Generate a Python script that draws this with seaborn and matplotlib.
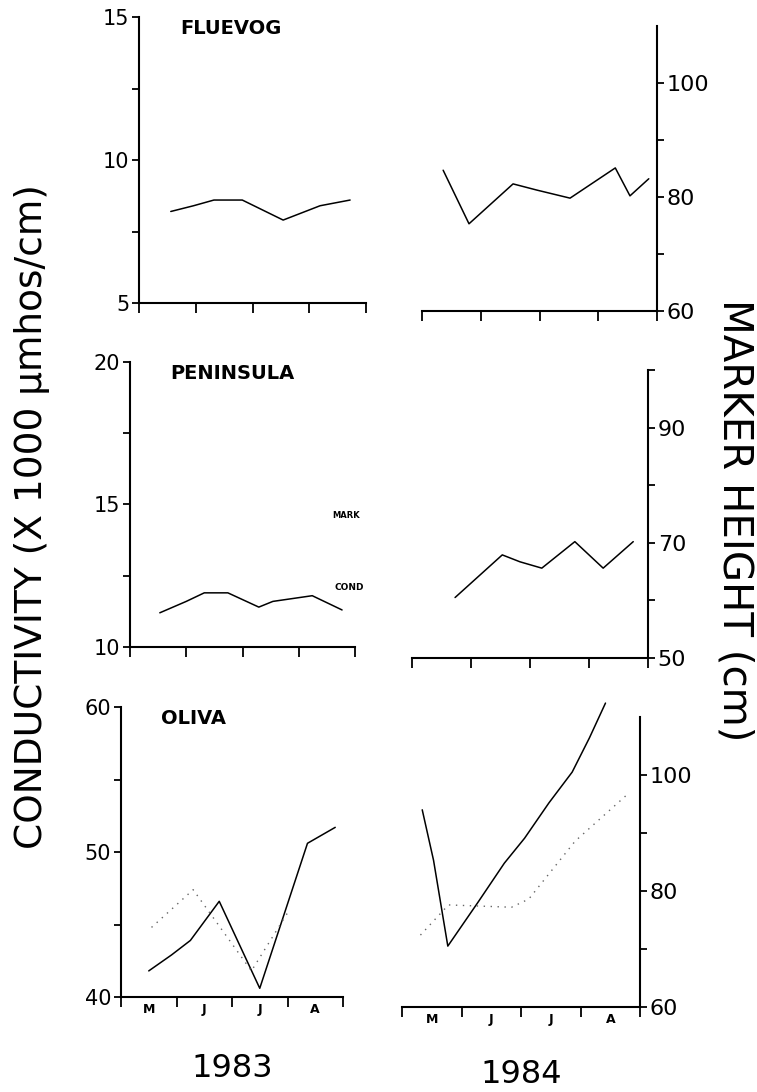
import numpy as np
import pandas as pd
import matplotlib
matplotlib.use("Agg")
import matplotlib.pyplot as plt
import seaborn as sns

# ---------------- data ----------------
months = ["M", "J", "J", "A"]
month_edges = [0, 1, 2, 3, 4]
month_centers = [0.5, 1.5, 2.5, 3.5]
years = ["1983", "1984"]
sites = ["FLUEVOG", "PENINSULA", "OLIVA"]

fluevog_83_x = [0.56, 0.96, 1.32, 1.82, 2.54, 3.19, 3.72]
fluevog_83_cond = [8.2, 8.4, 8.6, 8.6, 7.9, 8.4, 8.6]
fluevog_84_x = [0.36, 0.80, 1.55, 1.96, 2.52, 3.29, 3.54, 3.86]
fluevog_84_mark = [84.7, 75.3, 82.3, 81.2, 79.8, 85.1, 80.2, 83.2]

peninsula_83_x = [0.53, 1.00, 1.32, 1.74, 2.29, 2.54, 3.24, 3.77]
peninsula_83_cond = [11.2, 11.6, 11.9, 11.9, 11.4, 11.6, 11.8, 11.3]
peninsula_84_x = [0.73, 1.53, 1.83, 2.20, 2.76, 3.24, 3.75]
peninsula_84_mark = [60.5, 67.9, 66.7, 65.6, 70.2, 65.6, 70.2]

oliva_83_x = [0.50, 0.91, 1.25, 1.77, 2.50, 3.36, 3.86]
oliva_83_cond = [41.8, 42.9, 43.9, 46.6, 40.6, 50.6, 51.7]
oliva_83_dot_x = [0.55, 1.30, 2.35, 3.00]
oliva_83_dot = [44.8, 47.4, 41.8, 45.8]
oliva_84_x = [0.34, 0.53, 0.77, 1.28, 1.72, 2.06, 2.47, 2.86, 3.15, 3.42]
oliva_84_mark = [94.0, 85.3, 70.5, 78.1, 84.8, 89.1, 95.2, 100.5, 106.4, 112.4]
oliva_84_dot_x = [0.31, 0.78, 1.84, 2.13, 2.91, 3.76]
oliva_84_dot = [72.4, 77.6, 77.2, 78.6, 88.6, 96.4]

cond_limits = [(5, 15), (10, 20), (40, 60)]
cond_major = [[5, 10, 15], [10, 15, 20], [40, 50, 60]]
cond_minor = [[7.5, 12.5], [12.5, 17.5], [45, 55]]
mark_limits = [(60, 110), (50, 100), (60, 110)]
mark_major = [[60, 80, 100], [50, 70, 90], [60, 80, 100]]
mark_minor = [[70, 90], [60, 80, 100], [70, 90]]

# ---------------- style ----------------
sns.set_theme(style="ticks")
plt.rcParams["font.family"] = ["DejaVu Sans"]
plt.rcParams["axes.linewidth"] = 1.5
plt.rcParams["xtick.major.width"] = 1.3
plt.rcParams["ytick.major.width"] = 1.3
plt.rcParams["ytick.minor.width"] = 1.3
for key in ["text.color", "axes.labelcolor", "xtick.color", "ytick.color",
            "axes.edgecolor", "xtick.labelcolor", "ytick.labelcolor"]:
    plt.rcParams[key] = "black"

W, H = 757, 1092
fig = plt.figure(figsize=(W / 100, H / 100), dpi=100)
fig.patch.set_facecolor("white")


def box(x0, x1, y0, y1):
    return [x0 / W, 1 - y1 / H, (x1 - x0) / W, (y1 - y0) / H]


left_boxes = [box(139, 366, 17, 303), box(130, 355, 362, 647), box(121, 343, 707, 997)]
right_boxes = [box(422, 657, 26, 311), box(412, 648, 370, 658), box(402, 640, 717, 1007)]

left_series = [
    (fluevog_83_x, fluevog_83_cond),
    (peninsula_83_x, peninsula_83_cond),
    (oliva_83_x, oliva_83_cond),
]
right_series = [
    (fluevog_84_x, fluevog_84_mark),
    (peninsula_84_x, peninsula_84_mark),
    (oliva_84_x, oliva_84_mark),
]

for i in range(3):
    # ----- 1983 panel (conductivity, left axis) -----
    axl = fig.add_axes(left_boxes[i])
    axl.set_facecolor("none")
    xs, ys = left_series[i]
    df = pd.DataFrame({"x": xs, "y": ys})
    sns.lineplot(data=df, x="x", y="y", ax=axl, color="black", lw=1.1,
                 estimator=None, sort=False)

    # ----- 1984 panel (marker height, right axis) -----
    axr = fig.add_axes(right_boxes[i])
    axr.set_facecolor("none")
    xs, ys = right_series[i]
    df = pd.DataFrame({"x": xs, "y": ys})
    sns.lineplot(data=df, x="x", y="y", ax=axr, color="black", lw=1.1,
                 estimator=None, sort=False)

    if i == 2:
        df = pd.DataFrame({"x": oliva_83_dot_x, "y": oliva_83_dot})
        sns.lineplot(data=df, x="x", y="y", ax=axl, color="#666666", lw=1.0,
                     linestyle=(0, (1, 4)), estimator=None, sort=False)
        df = pd.DataFrame({"x": oliva_84_dot_x, "y": oliva_84_dot})
        sns.lineplot(data=df, x="x", y="y", ax=axr, color="#666666", lw=1.0,
                     linestyle=(0, (1, 4)), estimator=None, sort=False)

    for ln in axr.lines:
        ln.set_clip_on(False)

    # left axis formatting
    axl.set_xlim(0, 4)
    axl.set_ylim(*cond_limits[i])
    axl.set_yticks(cond_major[i])
    axl.set_yticklabels([str(v) for v in cond_major[i]], fontsize=15)
    axl.set_yticks(cond_minor[i], minor=True)
    axl.tick_params(axis="y", which="major", direction="out", length=5, pad=2)
    axl.tick_params(axis="y", which="minor", direction="out", length=5)
    axl.set_xticks(month_edges)
    axl.set_xticklabels([])
    axl.tick_params(axis="x", which="major", direction="out", length=7)
    axl.spines["top"].set_visible(False)
    axl.spines["right"].set_visible(False)
    axl.set_xlabel("")
    axl.set_ylabel("")
    axl.text(0.18, 0.96, sites[i], transform=axl.transAxes, fontsize=14,
             fontweight="bold", ha="left", va="center")

    # right axis formatting
    axr.set_xlim(0, 4)
    axr.set_ylim(*mark_limits[i])
    axr.yaxis.tick_right()
    axr.set_yticks(mark_major[i])
    axr.set_yticklabels([str(v) for v in mark_major[i]], fontsize=16)
    axr.set_yticks(mark_minor[i], minor=True)
    axr.tick_params(axis="y", which="major", direction="out", length=5, pad=2)
    axr.tick_params(axis="y", which="minor", direction="out", length=5)
    axr.set_xticks(month_edges)
    axr.set_xticklabels([])
    axr.tick_params(axis="x", which="major", direction="out", length=7)
    axr.spines["top"].set_visible(False)
    axr.spines["left"].set_visible(False)
    axr.spines["right"].set_visible(True)
    axr.set_xlabel("")
    axr.set_ylabel("")

    if i == 1:
        axl.text(0.90, 0.46, "MARK", transform=axl.transAxes, fontsize=6,
                 fontweight="bold", ha="left", va="center")
        axl.text(0.91, 0.21, "COND", transform=axl.transAxes, fontsize=6.5,
                 fontweight="bold", ha="left", va="center")
    if i == 2:
        for ax, yr, pad in ((axl, years[0], 27), (axr, years[1], 24)):
            ax.set_xticks(month_centers, minor=True)
            ax.set_xticklabels(months, minor=True, fontsize=9, fontweight="bold")
            ax.tick_params(axis="x", which="minor", length=0, pad=4)
            ax.set_xlabel(yr, fontsize=23, labelpad=pad)

fig.text(32 / W, 1 - 517 / H, "CONDUCTIVITY (X 1000 \u03bcmhos/cm)", rotation=90,
         fontsize=27, ha="center", va="center")
fig.text(735 / W, 1 - 520 / H, "MARKER HEIGHT (cm)", rotation=-90,
         fontsize=29, ha="center", va="center")

fig.savefig("out.png", dpi=100, facecolor="white")
